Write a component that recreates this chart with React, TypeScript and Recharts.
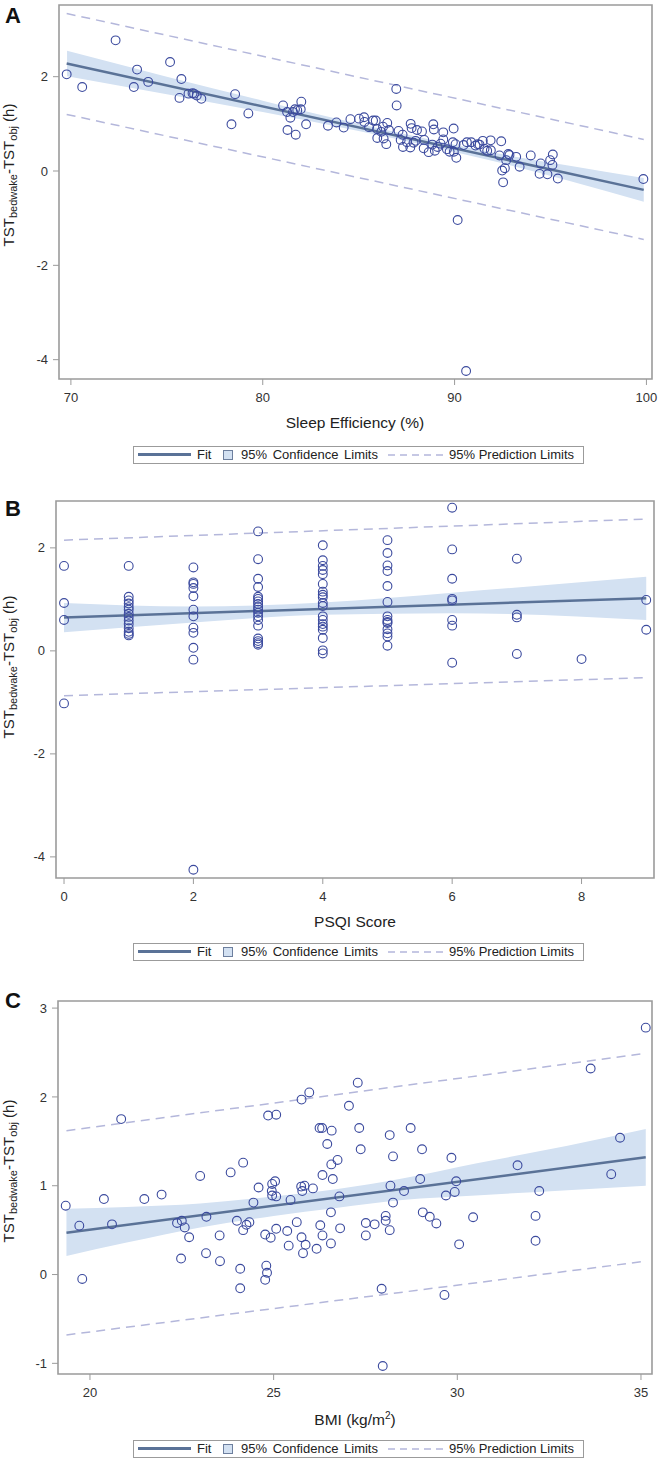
import { Area, ComposedChart, Line, ReferenceArea, Scatter, XAxis, YAxis } from "recharts";

const FONT = '"Liberation Sans", Arial, sans-serif';
const MARK = "#3b4a9e";
const FIT = "#5a7297";
const BAND = "#d3e1f2";
const PRED = "#b4b7db";
const FRAME = "#9b9b9b";

// ---- A: sleep efficiency ----
const effX = [
  69.78, 70.59, 72.33, 73.45, 73.28, 74.03, 75.17, 75.76, 75.66, 76.13, 76.34, 76.42, 76.56, 76.8, 78.56, 78.37,
  79.25, 81.06, 81.27, 81.44, 81.58, 81.68, 81.8, 81.98, 82.01, 81.29, 81.72, 82.26, 83.4, 83.84, 84.22, 84.57,
  85.02, 85.28, 85.3, 85.54, 85.75, 85.89, 85.96, 85.97, 86.18, 86.27, 86.3, 86.44, 86.49, 86.58, 86.96, 86.98,
  87.08, 87.19, 87.29, 87.31, 87.52, 87.69, 87.71, 87.76, 87.86, 88.04, 87.97, 88.3, 88.42, 88.39, 88.65, 88.84,
  88.89, 88.92, 88.97, 89.11, 89.27, 89.41, 89.41, 89.6, 89.74, 89.95, 89.91, 89.96, 90.05, 90.09, 90.16, 90.47,
  90.64, 90.87, 91.09, 91.21, 91.3, 91.47, 91.56, 91.7, 91.88, 91.89, 92.43, 92.34, 92.69, 92.8, 92.86, 92.62,
  92.48, 92.53, 93.21, 93.39, 93.97, 94.49, 94.43, 94.84, 94.98, 95.12, 95.1, 95.38, 99.84, 90.6,
];
const effDiff = [
  2.05, 1.78, 2.77, 2.15, 1.78, 1.89, 2.31, 1.95, 1.55, 1.64, 1.65, 1.64, 1.6, 1.53, 1.63, 0.99,
  1.22, 1.39, 1.25, 1.13, 1.25, 1.31, 1.29, 1.31, 1.47, 0.87, 0.77, 0.99, 0.96, 1.03, 0.92, 1.1,
  1.11, 1.14, 1.04, 0.93, 1.07, 1.07, 0.89, 0.7, 0.83, 0.94, 0.69, 0.57, 1.02, 0.87, 1.74, 1.39,
  0.85, 0.66, 0.77, 0.51, 0.61, 0.5, 1.0, 0.91, 0.6, 0.87, 0.64, 0.84, 0.66, 0.48, 0.4, 0.56,
  0.99, 0.88, 0.43, 0.51, 0.58, 0.82, 0.67, 0.46, 0.41, 0.9, 0.61, 0.41, 0.57, 0.28, -1.04, 0.55,
  0.61, 0.61, 0.54, 0.57, 0.56, 0.64, 0.47, 0.43, 0.65, 0.44, 0.63, 0.33, 0.23, 0.36, 0.34, 0.06,
  0.01, -0.24, 0.3, 0.09, 0.33, 0.16, -0.06, -0.07, 0.23, 0.35, 0.13, -0.16, -0.17, -4.24,
];
const effFitX = [69.78, 99.86];
const effFitY = [2.28, -0.4];
const effBandX = [69.8, 75, 80, 85, 88, 92, 96, 99.86];
const effBandLo = [2.01, 1.63, 1.25, 0.85, 0.59, 0.21, -0.21, -0.65];
const effBandHi = [2.55, 2.0, 1.49, 1.0, 0.73, 0.39, 0.11, -0.15];
const effPredX = [69.78, 99.86];
const effPredLo = [1.2, -1.45];
const effPredHi = [3.34, 0.67];
const effTicksX = [70, 80, 90, 100];
const effTicksY = [-4, -2, 0, 2];

// ---- B: PSQI ----
const psqiScores = [0, 1, 2, 3, 4, 5, 6, 7, 8, 9];
const psqiDiff = [
  [1.65, 0.93, 0.6, -1.02],
  [1.65, 1.05, 0.98, 0.92, 0.85, 0.8, 0.72, 0.66, 0.59, 0.52, 0.44, 0.37, 0.33, 0.3],
  [1.62, 1.33, 1.3, 1.22, 1.06, 0.8, 0.67, 0.45, 0.35, 0.06, -0.17, -4.25],
  [2.32, 1.78, 1.4, 1.24, 1.05, 1.01, 0.96, 0.91, 0.85, 0.8, 0.74, 0.67, 0.6, 0.49, 0.24, 0.19, 0.15, 0.12],
  [2.05, 1.76, 1.65, 1.57, 1.49, 1.3, 1.15, 1.09, 1.04, 0.93, 0.87, 0.67, 0.6, 0.52, 0.47, 0.41, 0.25, 0.01, -0.05],
  [2.15, 1.9, 1.66, 1.55, 1.26, 0.95, 0.67, 0.6, 0.56, 0.54, 0.42, 0.34, 0.28, 0.1],
  [2.78, 1.97, 1.4, 1.01, 0.98, 0.6, 0.49, -0.23],
  [1.79, 0.7, 0.65, -0.06],
  [-0.16],
  [0.99, 0.41],
];
const psqiFitX = [0, 9];
const psqiFitY = [0.65, 1.02];
const psqiBandX = [0, 2, 4, 6, 9];
const psqiBandLo = [0.36, 0.55, 0.7, 0.73, 0.6];
const psqiBandHi = [0.93, 0.86, 0.94, 1.13, 1.44];
const psqiPredX = [0, 9];
const psqiPredLo = [-0.87, -0.52];
const psqiPredHi = [2.15, 2.56];
const psqiTicksX = [0, 2, 4, 6, 8];
const psqiTicksY = [-4, -2, 0, 2];

// ---- C: BMI ----
const bmiX = [
  19.34, 20.85, 20.38, 21.48, 21.95, 23.0, 23.83, 24.17, 24.59, 24.45, 24.85, 25.07, 24.96, 25.04, 24.95, 24.96,
  25.07, 25.46, 25.76, 25.97, 25.75, 25.84, 25.78, 26.07, 26.25, 26.32, 26.33, 26.46, 26.58, 26.57, 26.74, 26.61,
  26.79, 26.56, 27.05, 27.29, 27.33, 27.37, 28.16, 28.73, 28.25, 29.04, 29.84, 28.18, 28.55, 28.25, 28.99, 29.97,
  29.69, 29.93, 31.64, 35.13, 33.63, 34.43, 34.19, 32.23, 32.13,
  19.71, 19.79, 20.6, 22.37, 22.5, 22.58, 23.17, 22.7, 23.53, 22.48, 23.16, 23.54, 24.0, 24.17, 24.26, 24.34,
  24.09, 24.09, 24.77, 24.92, 25.07, 24.8, 24.82, 24.77, 25.37, 25.41, 25.63, 25.76, 25.87, 25.8, 26.17, 26.27,
  26.33, 26.56, 26.81, 27.51, 27.75, 27.51, 28.05, 28.05, 28.16, 27.94, 27.97, 29.06, 29.25, 29.43, 29.65, 30.43,
  30.05, 32.13,
];
const bmiDiff = [
  0.775, 1.75, 0.85, 0.85, 0.9, 1.11, 1.15, 1.26, 0.98, 0.81, 1.79, 1.8, 1.02, 1.05, 0.94, 0.89,
  0.88, 0.84, 1.97, 2.05, 0.99, 1.0, 0.94, 0.97, 1.65, 1.65, 1.12, 1.47, 1.62, 1.24, 1.29, 1.075,
  0.88, 0.7, 1.9, 2.16, 1.65, 1.41, 1.57, 1.65, 1.33, 1.41, 1.315, 1.0, 0.94, 0.81, 1.075, 1.05,
  0.89, 0.93, 1.23, 2.78, 2.32, 1.54, 1.13, 0.94, 0.66,
  0.55, -0.05, 0.565, 0.58, 0.605, 0.53, 0.65, 0.42, 0.44, 0.18, 0.24, 0.15, 0.605, 0.5, 0.56, 0.59,
  0.065, -0.155, 0.45, 0.415, 0.515, 0.1, 0.02, -0.06, 0.49, 0.325, 0.59, 0.42, 0.335, 0.24, 0.29, 0.555,
  0.44, 0.35, 0.52, 0.58, 0.565, 0.44, 0.66, 0.605, 0.5, -0.16, -1.03, 0.7, 0.65, 0.575, -0.23, 0.645,
  0.34, 0.38,
];
const bmiFitX = [19.36, 35.13];
const bmiFitY = [0.47, 1.32];
const bmiBandX = [19.36, 21, 23, 25, 26.7, 28.5, 30.5, 33, 35.13];
const bmiBandLo = [0.21, 0.36, 0.53, 0.66, 0.75, 0.84, 0.89, 0.95, 1.0];
const bmiBandHi = [0.74, 0.76, 0.8, 0.88, 0.96, 1.08, 1.25, 1.45, 1.64];
const bmiPredX = [19.36, 35.13];
const bmiPredLo = [-0.68, 0.15];
const bmiPredHi = [1.62, 2.49];
const bmiTicksX = [20, 25, 30, 35];
const bmiTicksY = [-1, 0, 1, 2, 3];

type Pt = { x: number; y: number };

const toPoints = (xs: number[], ys: number[]): Pt[] => xs.map((x, i) => ({ x, y: ys[i] }));
const toBand = (xs: number[], lo: number[], hi: number[]) => xs.map((x, i) => ({ x, band: [lo[i], hi[i]] }));

const Ring = (p: any) => <circle cx={p.cx} cy={p.cy} r={4.4} fill="none" stroke={MARK} strokeWidth={1.1} />;

type PanelProps = {
  top: number;
  height: number;
  plotTop: number;
  plotLeft: number;
  plotRight: number;
  xAxisHeight: number;
  xDomain: [number, number];
  yDomain: [number, number];
  xTicks: number[];
  yTicks: number[];
  points: Pt[];
  fit: Pt[];
  band: { x: number; band: number[] }[];
  predLo: Pt[];
  predHi: Pt[];
};

function RegressionPanel(p: PanelProps) {
  const tickStyle = { fill: "#333", fontSize: 13, fontFamily: FONT };
  return (
    <div style={{ position: "absolute", top: p.top, left: 0 }}>
      <ComposedChart width={658} height={p.height} margin={{ top: p.plotTop, right: 658 - p.plotRight, bottom: 0, left: 0 }}>
        <XAxis
          type="number"
          dataKey="x"
          domain={p.xDomain}
          ticks={p.xTicks}
          interval={0}
          allowDataOverflow
          axisLine={false}
          tickLine={{ stroke: FRAME }}
          tickSize={6}
          tickMargin={8}
          tick={tickStyle}
          height={p.xAxisHeight}
        />
        <YAxis
          type="number"
          domain={p.yDomain}
          ticks={p.yTicks}
          interval={0}
          allowDataOverflow
          axisLine={false}
          tickLine={{ stroke: FRAME }}
          tickSize={6}
          tickMargin={5}
          tick={tickStyle}
          width={p.plotLeft}
        />
        <Area data={p.band} dataKey="band" type="monotone" stroke="none" fill={BAND} fillOpacity={1} isAnimationActive={false} />
        <Line data={p.predHi} dataKey="y" stroke={PRED} strokeWidth={1.5} strokeDasharray="9 6" dot={false} isAnimationActive={false} />
        <Line data={p.predLo} dataKey="y" stroke={PRED} strokeWidth={1.5} strokeDasharray="9 6" dot={false} isAnimationActive={false} />
        <Line data={p.fit} dataKey="y" stroke={FIT} strokeWidth={2.5} dot={false} isAnimationActive={false} />
        <Scatter data={p.points} dataKey="y" shape={Ring} isAnimationActive={false} />
        <ReferenceArea
          x1={p.xDomain[0]}
          x2={p.xDomain[1]}
          y1={p.yDomain[0]}
          y2={p.yDomain[1]}
          fill="none"
          stroke={FRAME}
          strokeWidth={1.6}
          ifOverflow="visible"
        />
      </ComposedChart>
    </div>
  );
}

function YLabel({ cy }: { cy: number }) {
  const sub = { fontSize: 11, position: "relative" as const, top: 3 };
  return (
    <div
      style={{
        position: "absolute",
        left: 9 - 90,
        top: cy - 9,
        width: 180,
        height: 18,
        lineHeight: "18px",
        fontSize: 15,
        fontFamily: FONT,
        color: "#222",
        textAlign: "center",
        whiteSpace: "nowrap",
        transform: "rotate(-90deg)",
      }}
    >
      TST<span style={sub}>bedwake</span>-TST<span style={sub}>obj</span> (h)
    </div>
  );
}

function XLabel({ baseline, children }: { baseline: number; children: React.ReactNode }) {
  return (
    <div
      style={{
        position: "absolute",
        left: 355 - 150,
        width: 300,
        top: baseline - 14.4,
        lineHeight: "18px",
        fontSize: 15.5,
        fontFamily: FONT,
        color: "#222",
        textAlign: "center",
        whiteSpace: "nowrap",
      }}
    >
      {children}
    </div>
  );
}

function Letter({ baseline, children }: { baseline: number; children: string }) {
  return (
    <div
      style={{
        position: "absolute",
        left: 5,
        top: baseline - 18.6,
        lineHeight: "22px",
        fontSize: 22,
        fontWeight: "bold",
        fontFamily: FONT,
        color: "#111",
      }}
    >
      {children}
    </div>
  );
}

function FitLegend({ top }: { top: number }) {
  const txt = { position: "absolute" as const, top: 0, lineHeight: "15px", whiteSpace: "nowrap" as const };
  return (
    <div
      style={{
        position: "absolute",
        top,
        left: 133,
        width: 451,
        height: 18,
        boxSizing: "border-box",
        border: `1px solid ${FRAME}`,
        background: "#fff",
        fontFamily: FONT,
        fontSize: 13,
        color: "#222",
        wordSpacing: 2,
      }}
    >
      <div style={{ position: "absolute", left: 4, top: 6, width: 53, height: 3, background: FIT }} />
      <span style={{ ...txt, left: 63 }}>Fit</span>
      <div
        style={{
          position: "absolute",
          left: 89,
          top: 3,
          width: 10,
          height: 10,
          boxSizing: "border-box",
          background: BAND,
          border: "1px solid #6d7f9e",
        }}
      />
      <span style={{ ...txt, left: 107 }}>95% Confidence Limits</span>
      <svg style={{ position: "absolute", left: 254, top: 7 }} width={56} height={2}>
        <line x1={0} y1={1} x2={56} y2={1} stroke={PRED} strokeWidth={1.3} strokeDasharray="7 5" />
      </svg>
      <span style={{ ...txt, left: 315, wordSpacing: 0 }}>95% Prediction Limits</span>
    </div>
  );
}

export default function App() {
  const psqiPoints = psqiScores.flatMap((s, i) => psqiDiff[i].map((y) => ({ x: s, y })));
  return (
    <div style={{ position: "relative", width: 658, height: 1461, background: "#fff", overflow: "hidden" }}>
      <style>{"body{margin:0}"}</style>

      <RegressionPanel
        top={0}
        height={470}
        plotTop={5}
        plotLeft={59}
        plotRight={652}
        xAxisHeight={91}
        xDomain={[69.38, 100.29]}
        yDomain={[-4.41, 3.52]}
        xTicks={effTicksX}
        yTicks={effTicksY}
        points={toPoints(effX, effDiff)}
        fit={toPoints(effFitX, effFitY)}
        band={toBand(effBandX, effBandLo, effBandHi)}
        predLo={toPoints(effPredX, effPredLo)}
        predHi={toPoints(effPredX, effPredHi)}
      />
      <Letter baseline={24}>A</Letter>
      <YLabel cy={175} />
      <XLabel baseline={428}>Sleep Efficiency (%)</XLabel>
      <FitLegend top={446} />

      <RegressionPanel
        top={478}
        height={490}
        plotTop={23}
        plotLeft={56}
        plotRight={654}
        xAxisHeight={90}
        xDomain={[-0.124, 9.12]}
        yDomain={[-4.41, 2.91]}
        xTicks={psqiTicksX}
        yTicks={psqiTicksY}
        points={psqiPoints}
        fit={toPoints(psqiFitX, psqiFitY)}
        band={toBand(psqiBandX, psqiBandLo, psqiBandHi)}
        predLo={toPoints(psqiPredX, psqiPredLo)}
        predHi={toPoints(psqiPredX, psqiPredHi)}
      />
      <Letter baseline={517}>B</Letter>
      <YLabel cy={667} />
      <XLabel baseline={927}>PSQI Score</XLabel>
      <FitLegend top={943} />

      <RegressionPanel
        top={968}
        height={493}
        plotTop={33}
        plotLeft={58}
        plotRight={652}
        xAxisHeight={87}
        xDomain={[19.13, 35.3]}
        yDomain={[-1.12, 3.08]}
        xTicks={bmiTicksX}
        yTicks={bmiTicksY}
        points={toPoints(bmiX, bmiDiff)}
        fit={toPoints(bmiFitX, bmiFitY)}
        band={toBand(bmiBandX, bmiBandLo, bmiBandHi)}
        predLo={toPoints(bmiPredX, bmiPredLo)}
        predHi={toPoints(bmiPredX, bmiPredHi)}
      />
      <Letter baseline={1009}>C</Letter>
      <YLabel cy={1171} />
      <XLabel baseline={1425}>
        BMI (kg/m<sup style={{ fontSize: 10, verticalAlign: "baseline", position: "relative", top: -6 }}>2</sup>)
      </XLabel>
      <FitLegend top={1440} />
    </div>
  );
}
